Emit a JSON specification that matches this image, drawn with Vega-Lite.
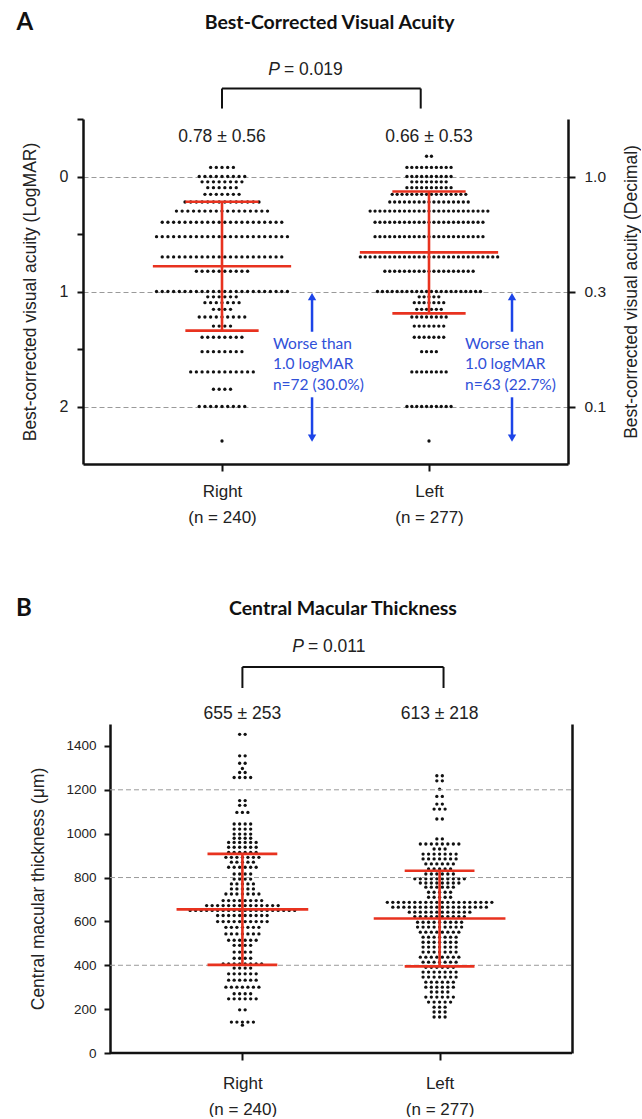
{
"$schema": "https://vega.github.io/schema/vega-lite/v6.json",
"padding": {"left": 16, "top": 10, "right": 0, "bottom": 0},
"background": "white",
"config": {
  "view": {"stroke": null},
  "axis": {"domainColor": "#111", "domainWidth": 2.5, "tickColor": "#111", "tickWidth": 2, "labelColor": "#222", "titleColor": "#222", "labelFont": "Liberation Sans", "titleFont": "Liberation Sans", "titleFontWeight": "normal", "grid": false, "labelFlush": false, "labelOverlap": false},
  "text": {"font": "Liberation Sans", "color": "#222"}
},
"datasets": {
"aR": [-0.079,-0.079,-0.079,-0.079,-0.079,
0,0,0,0,0,0,0,0,0,
0.046,0.046,0.046,0.046,0.046,0.046,0.046,0.046,
0.097,0.097,0.097,0.097,0.097,0.097,
0.155,0.155,0.155,0.155,0.155,0.155,0.155,
0.222,0.222,0.222,0.222,0.222,0.222,0.222,0.222,0.222,0.222,0.222,0.222,0.222,0.222,
0.301,0.301,0.301,0.301,0.301,0.301,0.301,0.301,0.301,0.301,0.301,0.301,0.301,0.301,0.301,0.301,0.301,
0.398,0.398,0.398,0.398,0.398,0.398,0.398,0.398,0.398,0.398,0.398,0.398,0.398,0.398,0.398,0.398,0.398,0.398,0.398,0.398,0.398,0.398,
0.523,0.523,0.523,0.523,0.523,0.523,0.523,0.523,0.523,0.523,0.523,0.523,0.523,0.523,0.523,0.523,0.523,0.523,0.523,0.523,0.523,0.523,0.523,0.523,
0.699,0.699,0.699,0.699,0.699,0.699,0.699,0.699,0.699,0.699,0.699,0.699,0.699,0.699,0.699,0.699,0.699,0.699,0.699,0.699,0.699,0.699,
0.824,0.824,0.824,0.824,0.824,0.824,0.824,0.824,0.824,0.824,
1,1,1,1,1,1,1,1,1,1,1,1,1,1,1,1,1,1,1,1,1,1,1,1,
1.046,1.046,1.046,1.046,1.046,1.046,
1.097,1.097,1.097,1.097,1.097,1.097,1.097,
1.155,1.155,1.155,1.155,
1.222,1.222,1.222,1.222,1.222,1.222,1.222,1.222,1.222,
1.301,1.301,1.301,1.301,
1.398,1.398,1.398,1.398,1.398,1.398,1.398,1.398,
1.523,1.523,1.523,1.523,1.523,1.523,1.523,1.523,
1.699,1.699,1.699,1.699,1.699,1.699,1.699,1.699,1.699,1.699,1.699,1.699,
1.85,1.85,1.85,1.85,
2,2,2,2,2,2,2,2,2,
2.3],
"aL": [-0.176,-0.176,
-0.079,-0.079,-0.079,-0.079,-0.079,-0.079,-0.079,-0.079,-0.079,-0.079,
0,0,0,0,0,0,0,0,0,0,
0.046,0.046,0.046,0.046,0.046,0.046,0.046,0.046,
0.097,0.097,0.097,0.097,0.097,0.097,0.097,0.097,0.097,0.097,
0.155,0.155,0.155,0.155,0.155,0.155,0.155,0.155,0.155,0.155,0.155,0.155,0.155,0.155,0.155,0.155,
0.222,0.222,0.222,0.222,0.222,0.222,0.222,0.222,0.222,0.222,0.222,0.222,0.222,0.222,0.222,0.222,0.222,
0.301,0.301,0.301,0.301,0.301,0.301,0.301,0.301,0.301,0.301,0.301,0.301,0.301,0.301,0.301,0.301,0.301,0.301,0.301,0.301,0.301,0.301,0.301,0.301,0.301,
0.398,0.398,0.398,0.398,0.398,0.398,0.398,0.398,0.398,0.398,0.398,0.398,0.398,0.398,0.398,0.398,0.398,0.398,0.398,0.398,0.398,0.398,0.398,
0.523,0.523,0.523,0.523,0.523,0.523,0.523,0.523,0.523,0.523,0.523,0.523,0.523,0.523,0.523,0.523,0.523,0.523,0.523,0.523,0.523,0.523,0.523,
0.699,0.699,0.699,0.699,0.699,0.699,0.699,0.699,0.699,0.699,0.699,0.699,0.699,0.699,0.699,0.699,0.699,0.699,0.699,0.699,0.699,0.699,0.699,0.699,0.699,0.699,0.699,0.699,0.699,
0.824,0.824,0.824,0.824,0.824,0.824,0.824,0.824,0.824,0.824,0.824,0.824,0.824,0.824,0.824,0.824,0.824,0.824,0.824,
1,1,1,1,1,1,1,1,1,1,1,1,1,1,1,1,1,1,1,1,1,1,
1.046,1.046,1.046,1.046,1.046,
1.097,1.097,1.097,1.097,1.097,1.097,1.097,
1.155,1.155,1.155,1.155,1.155,1.155,
1.222,1.222,1.222,1.222,1.222,1.222,1.222,1.222,
1.301,1.301,1.301,1.301,1.301,1.301,1.301,
1.398,1.398,1.398,1.398,1.398,1.398,1.398,
1.523,1.523,1.523,1.523,
1.699,1.699,1.699,1.699,1.699,1.699,1.699,1.699,
2,2,2,2,2,2,2,2,2,2,
2.3],
"bR": [127,
141,141,141,141,141,
197,197,
247,247,247,247,247,247,
270,270,270,270,
300,300,300,300,300,300,300,
332,332,332,332,332,332,
361,361,361,361,361,361,
387,387,387,387,
406,406,406,406,406,406,406,406,
432,432,432,432,
460,460,460,460,
491,491,491,491,
514,514,514,514,514,514,
543,543,543,543,543,543,543,
573,573,573,573,573,573,573,
599,599,599,599,599,599,599,599,599,599,
627,627,627,627,627,627,627,627,627,627,
650,650,650,650,650,650,650,650,650,650,650,650,650,650,650,650,650,650,650,650,
672,672,672,672,672,672,672,672,672,672,672,672,672,672,
695,695,695,695,695,695,695,695,
725,725,725,725,725,725,725,
748,748,748,748,748,
771,771,771,771,771,
793,793,793,793,
816,816,816,816,
847,847,847,847,847,847,
870,870,870,870,870,
892,892,892,892,892,892,892,
915,915,915,915,915,915,
938,938,938,938,938,938,
960,960,960,960,960,960,
979,979,979,979,
998,998,998,998,
1021,1021,1021,1021,
1044,1044,1044,1044,
1097,1097,1097,
1129,1129,
1151,1151,
1256,1256,1256,1256,
1279,1279,
1297,
1321,1321,
1355,1355,
1453,1453],
"bL": [164,164,164,
187,187,187,
209,209,209,
232,232,232,232,232,
255,255,255,255,255,255,
278,278,278,278,
300,300,300,300,300,300,
323,323,323,323,323,323,
346,346,346,346,346,346,346,
369,369,369,369,369,369,369,
391,391,391,391,391,391,
414,414,414,414,414,414,414,
437,437,437,437,437,437,437,437,
460,460,460,460,460,460,460,
483,483,483,483,483,483,483,
505,505,505,505,505,505,505,
528,528,528,528,528,528,528,
551,551,551,551,551,551,551,551,
574,574,574,574,574,574,574,574,574,
596,596,596,596,596,596,596,596,596,
622,622,622,622,622,622,622,622,622,622,
642,642,642,642,642,642,642,642,642,642,642,642,
665,665,665,665,665,665,665,665,665,665,665,665,665,665,665,665,665,665,
687,687,687,687,687,687,687,687,687,687,687,687,687,687,687,687,687,687,687,687,
710,710,710,710,710,
733,733,733,733,733,
756,756,756,756,756,756,
775,775,775,775,775,775,775,775,
794,794,794,794,794,794,794,794,794,794,
816,816,816,816,816,816,
839,839,839,839,839,
862,862,862,862,862,862,
885,885,885,885,885,885,885,
907,907,907,907,907,907,907,
930,930,930,
953,953,953,953,953,953,953,953,
976,976,
1067,1067,
1112,1112,1112,
1135,1135,
1170,1170,
1203,
1241,1241,
1264,1264]
},
"columns": 1,
"align": "none",
"bounds": "full",
"spacing": 72,
"concat": [
{
  "width": 485, "height": 345,
  "resolve": {"axis": {"x": "independent", "y": "independent"}},
  "layer": [
    {
      "data": {"name": "aR"},
      "transform": [
        {"window": [{"op": "row_number", "as": "r"}], "groupby": ["data"]},
        {"joinaggregate": [{"op": "count", "as": "c"}], "groupby": ["data"]},
        {"calculate": "1 + (datum.r - (datum.c + 1) / 2) * 0.0275", "as": "xp"}
      ],
      "mark": {"type": "circle", "size": 11, "color": "#111", "opacity": 1},
      "encoding": {
        "x": {"field": "xp", "type": "quantitative", "scale": {"domain": [0.3285, 2.6715], "nice": false, "zero": false},
          "axis": {"values": [1, 2], "title": null, "labelExpr": "datum.value == 1 ? ['Right', '(n = 240)'] : ['Left', '(n = 277)']", "tickSize": 7, "labelPadding": 12, "labelFontSize": 17, "labelLineHeight": 26}},
        "y": {"field": "data", "type": "quantitative", "scale": {"domain": [-0.5, 2.5], "reverse": true, "nice": false, "zero": false},
          "axis": {"values": [-0.5, 0, 0.5, 1, 1.5, 2], "labelExpr": "datum.value == 0 ? '0' : datum.value == 1 ? '1' : datum.value == 2 ? '2' : ''", "title": "Best-corrected visual acuity (LogMAR)", "titleFontSize": 17.5, "titlePadding": 20, "labelFontSize": 16, "labelPadding": 9, "tickSize": 6}}
      }
    },
    {
      "data": {"name": "aL"},
      "transform": [
        {"window": [{"op": "row_number", "as": "r"}], "groupby": ["data"]},
        {"joinaggregate": [{"op": "count", "as": "c"}], "groupby": ["data"]},
        {"calculate": "2 + (datum.r - (datum.c + 1) / 2) * 0.0237", "as": "xp"}
      ],
      "mark": {"type": "circle", "size": 11, "color": "#111", "opacity": 1},
      "encoding": {
        "x": {"field": "xp", "type": "quantitative", "axis": null},
        "y": {"field": "data", "type": "quantitative",
          "axis": {"orient": "right", "values": [0, 1, 2], "labelExpr": "datum.value == 0 ? '1.0' : datum.value == 1 ? '0.3' : '0.1'", "title": "Best-corrected visual acuity (Decimal)", "titleAngle": 270, "titleBaseline": "top", "titleFontSize": 17.5, "titlePadding": 17, "labelFontSize": 15.5, "labelPadding": 9, "tickSize": 7, "grid": true, "gridDash": [5, 3], "gridColor": "#9a9a9a", "gridWidth": 1}}
      }
    },
    {
      "data": {"values": [{"g": 1, "m": 0.78, "sd": 0.56, "t": "0.78 ± 0.56"}, {"g": 2, "m": 0.66, "sd": 0.53, "t": "0.66 ± 0.53"}]},
      "transform": [
        {"calculate": "datum.m - datum.sd", "as": "lo"},
        {"calculate": "datum.m + datum.sd", "as": "hi"},
        {"calculate": "datum.g - 0.334", "as": "xm1"},
        {"calculate": "datum.g + 0.334", "as": "xm2"},
        {"calculate": "datum.g - 0.177", "as": "xs1"},
        {"calculate": "datum.g + 0.177", "as": "xs2"}
      ],
      "layer": [
        {"mark": {"type": "rule", "color": "#e8321f", "strokeWidth": 2.6},
         "encoding": {"x": {"field": "g", "type": "quantitative", "axis": null}, "y": {"field": "lo", "type": "quantitative", "axis": null}, "y2": {"field": "hi"}}},
        {"mark": {"type": "rule", "color": "#e8321f", "strokeWidth": 2.6},
         "encoding": {"x": {"field": "xm1", "type": "quantitative", "axis": null}, "x2": {"field": "xm2"}, "y": {"field": "m", "type": "quantitative", "axis": null}}},
        {"mark": {"type": "rule", "color": "#e8321f", "strokeWidth": 2.6},
         "encoding": {"x": {"field": "xs1", "type": "quantitative", "axis": null}, "x2": {"field": "xs2"}, "y": {"field": "lo", "type": "quantitative", "axis": null}}},
        {"mark": {"type": "rule", "color": "#e8321f", "strokeWidth": 2.6},
         "encoding": {"x": {"field": "xs1", "type": "quantitative", "axis": null}, "x2": {"field": "xs2"}, "y": {"field": "hi", "type": "quantitative", "axis": null}}},
        {"mark": {"type": "text", "fontSize": 17.5, "baseline": "middle", "align": "center"},
         "encoding": {"x": {"field": "g", "type": "quantitative", "axis": null}, "y": {"datum": -0.34, "axis": null}, "text": {"field": "t"}}}
      ]
    },
    {
      "data": {"values": [{"g": 1, "t": ["Worse than", "1.0 logMAR", "n=72 (30.0%)"]}, {"g": 2, "t": ["Worse than", "1.0 logMAR", "n=63 (22.7%)"]}]},
      "transform": [
        {"calculate": "datum.g + (datum.g == 1 ? 0.435 : 0.401)", "as": "ax"},
        {"calculate": "datum.g + (datum.g == 1 ? 0.246 : 0.174)", "as": "tx"}
      ],
      "layer": [
        {"mark": {"type": "text", "align": "left", "baseline": "middle", "font": "Lato", "fontSize": 15.5, "lineHeight": 20.5, "color": "#3050d8"},
         "encoding": {"x": {"field": "tx", "type": "quantitative", "axis": null}, "y": {"datum": 1.455, "axis": null}, "text": {"field": "t"}}},
        {"mark": {"type": "rule", "color": "#1c44e8", "strokeWidth": 2.5},
         "encoding": {"x": {"field": "ax", "type": "quantitative", "axis": null}, "y": {"datum": 1.35, "axis": null}, "y2": {"datum": 1.07}}},
        {"mark": {"type": "point", "shape": "triangle-up", "filled": true, "size": 70, "opacity": 1, "color": "#1c44e8"},
         "encoding": {"x": {"field": "ax", "type": "quantitative", "axis": null}, "y": {"datum": 1.045, "axis": null}}},
        {"mark": {"type": "rule", "color": "#1c44e8", "strokeWidth": 2.5},
         "encoding": {"x": {"field": "ax", "type": "quantitative", "axis": null}, "y": {"datum": 1.92, "axis": null}, "y2": {"datum": 2.25}}},
        {"mark": {"type": "point", "shape": "triangle-down", "filled": true, "size": 70, "opacity": 1, "color": "#1c44e8"},
         "encoding": {"x": {"field": "ax", "type": "quantitative", "axis": null}, "y": {"datum": 2.275, "axis": null}}}
      ]
    },
    {
      "data": {"values": [{}]},
      "layer": [
        {"mark": {"type": "rule", "color": "#111", "strokeWidth": 2},
         "encoding": {"x": {"datum": 1, "axis": null}, "x2": {"datum": 1.96}, "y": {"datum": -0.765, "axis": null}}},
        {"mark": {"type": "rule", "color": "#111", "strokeWidth": 2},
         "encoding": {"x": {"datum": 1, "axis": null}, "y": {"datum": -0.765, "axis": null}, "y2": {"datum": -0.591}}},
        {"mark": {"type": "rule", "color": "#111", "strokeWidth": 2},
         "encoding": {"x": {"datum": 1.96, "axis": null}, "y": {"datum": -0.765, "axis": null}, "y2": {"datum": -0.591}}},
        {"mark": {"type": "text", "text": "P", "fontStyle": "italic", "fontSize": 17.5, "align": "right", "baseline": "middle"},
         "encoding": {"x": {"datum": 1.28, "axis": null}, "y": {"datum": -0.922, "axis": null}}},
        {"mark": {"type": "text", "text": "= 0.019", "fontSize": 17.5, "align": "left", "baseline": "middle", "dx": 4},
         "encoding": {"x": {"datum": 1.28, "axis": null}, "y": {"datum": -0.922, "axis": null}}},
        {"mark": {"type": "text", "text": "Best-Corrected Visual Acuity", "font": "Lato", "fontWeight": "bold", "fontSize": 19.5, "align": "center", "baseline": "middle", "color": "#111"},
         "encoding": {"x": {"datum": 1.52, "axis": null}, "y": {"datum": -1.339, "axis": null}}},
        {"mark": {"type": "text", "text": "A", "font": "Lato", "fontWeight": "bold", "fontSize": 24, "align": "center", "baseline": "middle", "color": "#111"},
         "encoding": {"x": {"datum": 0.048, "axis": null}, "y": {"datum": -1.339, "axis": null}}}
      ]
    }
  ]
},
{
  "width": 489, "height": 329,
  "resolve": {"axis": {"x": "independent", "y": "independent"}},
  "layer": [
    {
      "data": {"name": "bR"},
      "transform": [
        {"window": [{"op": "row_number", "as": "r"}], "groupby": ["data"]},
        {"joinaggregate": [{"op": "count", "as": "c"}], "groupby": ["data"]},
        {"calculate": "1 + (datum.r - (datum.c + 1) / 2) * 0.0279", "as": "xp"}
      ],
      "mark": {"type": "circle", "size": 11, "color": "#111", "opacity": 1},
      "encoding": {
        "x": {"field": "xp", "type": "quantitative", "scale": {"domain": [0.1916, 2.6715], "nice": false, "zero": false},
          "axis": {"values": [1, 2], "title": null, "domain": false, "labelExpr": "datum.value == 1 ? ['Right', '(n = 240)'] : ['Left', '(n = 277)']", "tickSize": 7, "labelPadding": 15, "labelFontSize": 17, "labelLineHeight": 26}},
        "y": {"field": "data", "type": "quantitative", "scale": {"domain": [0, 1500], "nice": false, "zero": false},
          "axis": {"offset": -27, "values": [0, 200, 400, 600, 800, 1000, 1200, 1400], "format": "d", "title": "Central macular thickness (μm)", "titleFontSize": 17.5, "titlePadding": 18, "labelFontSize": 13.5, "labelPadding": 8, "tickSize": 6}}
      }
    },
    {
      "data": {"name": "bL"},
      "transform": [
        {"window": [{"op": "row_number", "as": "r"}], "groupby": ["data"]},
        {"joinaggregate": [{"op": "count", "as": "c"}], "groupby": ["data"]},
        {"calculate": "2 + (datum.r - (datum.c + 1) / 2) * 0.0279", "as": "xp"}
      ],
      "mark": {"type": "circle", "size": 11, "color": "#111", "opacity": 1},
      "encoding": {
        "x": {"field": "xp", "type": "quantitative", "axis": null},
        "y": {"field": "data", "type": "quantitative",
          "axis": {"orient": "right", "ticks": false, "labels": false, "title": null, "grid": false}}
      }
    },
    {
      "data": {"values": [{}]},
      "layer": [
        {"mark": {"type": "rule", "color": "#9a9a9a", "strokeWidth": 1, "strokeDash": [5, 3]},
         "encoding": {"x": {"datum": 0.3285, "axis": null}, "x2": {"datum": 2.6715}, "y": {"datum": 400, "axis": null}}},
        {"mark": {"type": "rule", "color": "#9a9a9a", "strokeWidth": 1, "strokeDash": [5, 3]},
         "encoding": {"x": {"datum": 0.3285, "axis": null}, "x2": {"datum": 2.6715}, "y": {"datum": 800, "axis": null}}},
        {"mark": {"type": "rule", "color": "#9a9a9a", "strokeWidth": 1, "strokeDash": [5, 3]},
         "encoding": {"x": {"datum": 0.3285, "axis": null}, "x2": {"datum": 2.6715}, "y": {"datum": 1200, "axis": null}}},
        {"mark": {"type": "rule", "color": "#111", "strokeWidth": 2.5},
         "encoding": {"x": {"datum": 0.3285, "axis": null}, "x2": {"datum": 2.6715}, "y": {"datum": 0, "axis": null}}}
      ]
    },
    {
      "data": {"values": [{"g": 1, "m": 655, "sd": 253, "t": "655 ± 253"}, {"g": 2, "m": 613, "sd": 218, "t": "613 ± 218"}]},
      "transform": [
        {"calculate": "datum.m - datum.sd", "as": "lo"},
        {"calculate": "datum.m + datum.sd", "as": "hi"},
        {"calculate": "datum.g - 0.334", "as": "xm1"},
        {"calculate": "datum.g + 0.334", "as": "xm2"},
        {"calculate": "datum.g - 0.177", "as": "xs1"},
        {"calculate": "datum.g + 0.177", "as": "xs2"}
      ],
      "layer": [
        {"mark": {"type": "rule", "color": "#e8321f", "strokeWidth": 2.6},
         "encoding": {"x": {"field": "g", "type": "quantitative", "axis": null}, "y": {"field": "lo", "type": "quantitative", "axis": null}, "y2": {"field": "hi"}}},
        {"mark": {"type": "rule", "color": "#e8321f", "strokeWidth": 2.6},
         "encoding": {"x": {"field": "xm1", "type": "quantitative", "axis": null}, "x2": {"field": "xm2"}, "y": {"field": "m", "type": "quantitative", "axis": null}}},
        {"mark": {"type": "rule", "color": "#e8321f", "strokeWidth": 2.6},
         "encoding": {"x": {"field": "xs1", "type": "quantitative", "axis": null}, "x2": {"field": "xs2"}, "y": {"field": "lo", "type": "quantitative", "axis": null}}},
        {"mark": {"type": "rule", "color": "#e8321f", "strokeWidth": 2.6},
         "encoding": {"x": {"field": "xs1", "type": "quantitative", "axis": null}, "x2": {"field": "xs2"}, "y": {"field": "hi", "type": "quantitative", "axis": null}}},
        {"mark": {"type": "text", "fontSize": 17.5, "baseline": "middle", "align": "center"},
         "encoding": {"x": {"field": "g", "type": "quantitative", "axis": null}, "y": {"datum": 1546, "axis": null}, "text": {"field": "t"}}}
      ]
    },
    {
      "data": {"values": [{}]},
      "layer": [
        {"mark": {"type": "rule", "color": "#111", "strokeWidth": 2},
         "encoding": {"x": {"datum": 1, "axis": null}, "x2": {"datum": 2.02}, "y": {"datum": 1760, "axis": null}}},
        {"mark": {"type": "rule", "color": "#111", "strokeWidth": 2},
         "encoding": {"x": {"datum": 1, "axis": null}, "y": {"datum": 1760, "axis": null}, "y2": {"datum": 1664}}},
        {"mark": {"type": "rule", "color": "#111", "strokeWidth": 2},
         "encoding": {"x": {"datum": 2.02, "axis": null}, "y": {"datum": 1760, "axis": null}, "y2": {"datum": 1664}}},
        {"mark": {"type": "text", "text": "P", "fontStyle": "italic", "fontSize": 17.5, "align": "right", "baseline": "middle"},
         "encoding": {"x": {"datum": 1.312, "axis": null}, "y": {"datum": 1851, "axis": null}}},
        {"mark": {"type": "text", "text": "= 0.011", "fontSize": 17.5, "align": "left", "baseline": "middle", "dx": 4},
         "encoding": {"x": {"datum": 1.312, "axis": null}, "y": {"datum": 1851, "axis": null}}},
        {"mark": {"type": "text", "text": "Central Macular Thickness", "font": "Lato", "fontWeight": "bold", "fontSize": 19.5, "align": "center", "baseline": "middle", "color": "#111"},
         "encoding": {"x": {"datum": 1.51, "axis": null}, "y": {"datum": 2024, "axis": null}}},
        {"mark": {"type": "text", "text": "B", "font": "Lato", "fontWeight": "bold", "fontSize": 24, "align": "center", "baseline": "middle", "color": "#111"},
         "encoding": {"x": {"datum": -0.1076, "axis": null}, "y": {"datum": 2024, "axis": null}}}
      ]
    }
  ]
}
]
}
